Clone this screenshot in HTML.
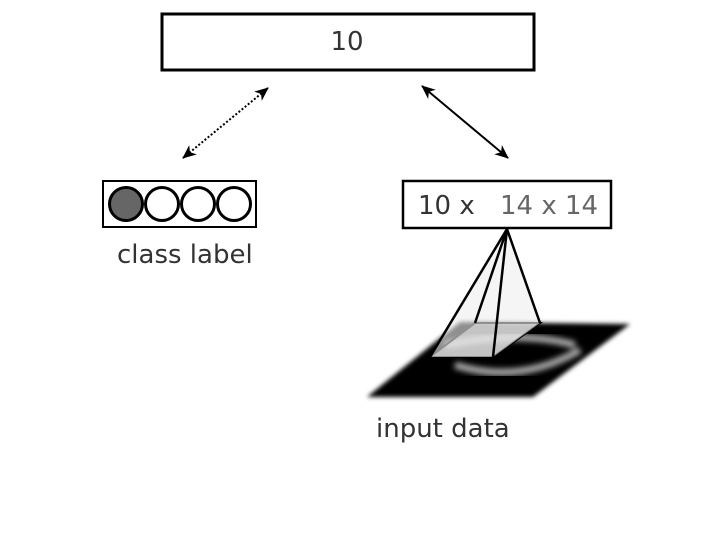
<!DOCTYPE html>
<html><head><style>body{margin:0;background:#fff}svg{display:block}</style></head><body>
<svg width="705" height="560" xmlns="http://www.w3.org/2000/svg" font-family="'DejaVu Sans','Liberation Sans',sans-serif">
<defs>
<marker id="a" markerWidth="14" markerHeight="12" refX="13" refY="6" orient="auto-start-reverse" markerUnits="userSpaceOnUse"><path d="M0,0 L14,6 L0,12 L4,6z" fill="#000"/></marker>
<filter id="bl"><feGaussianBlur stdDeviation="2"/></filter>
<filter id="bl2"><feGaussianBlur stdDeviation="3"/></filter>
</defs>
<rect x="162" y="14" width="372" height="56" fill="#fff" stroke="#000" stroke-width="3"/>
<text x="347" y="50" font-size="26" text-anchor="middle" fill="#333">10</text>
<line x1="183" y1="158" x2="268" y2="88" stroke="#000" stroke-width="2" stroke-dasharray="2,2" marker-start="url(#a)" marker-end="url(#a)"/>
<line x1="422" y1="86" x2="508" y2="158" stroke="#000" stroke-width="2" marker-start="url(#a)" marker-end="url(#a)"/>
<rect x="103" y="181" width="153" height="46" fill="#fff" stroke="#000" stroke-width="2"/>
<circle cx="126" cy="204" r="16.5" fill="#666" stroke="#000" stroke-width="3"/>
<circle cx="162" cy="204" r="16.5" fill="#fff" stroke="#000" stroke-width="3"/>
<circle cx="198" cy="204" r="16.5" fill="#fff" stroke="#000" stroke-width="3"/>
<circle cx="234" cy="204" r="16.5" fill="#fff" stroke="#000" stroke-width="3"/>
<text x="117" y="263" font-size="26" fill="#333">class label</text>
<rect x="403" y="181" width="208" height="47" fill="#fff" stroke="#000" stroke-width="2.5"/>
<text x="418" y="214" font-size="26" fill="#333">10 x</text>
<text x="500" y="214" font-size="26" fill="#666">14 x 14</text>
<polygon points="367,397 533,397 630,324 460,322" fill="#000" filter="url(#bl)"/>
<path d="M445,345 Q520,330 575,345 M455,365 Q520,385 580,350" stroke="#aaa" stroke-width="7" fill="none" filter="url(#bl2)"/>
<polygon points="430,357 493,357 540,323 475,323" fill="#ddd" fill-opacity="0.6" stroke="#000" stroke-width="2"/>
<polygon points="507,229 430,357 493,357 540,323" fill="#eee" fill-opacity="0.6"/>
<g stroke="#000" stroke-width="2.5" fill="none">
<line x1="507" y1="229" x2="430" y2="357"/>
<line x1="507" y1="229" x2="475" y2="323"/>
<line x1="507" y1="229" x2="493" y2="357"/>
<line x1="507" y1="229" x2="540" y2="323"/>
</g>
<text x="376" y="437" font-size="26" fill="#333">input data</text>
</svg>
</body></html>
